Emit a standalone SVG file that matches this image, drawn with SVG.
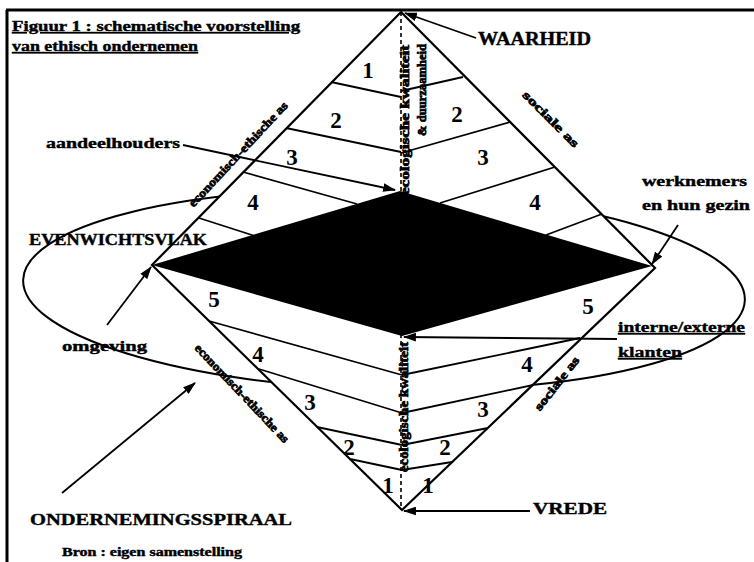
<svg xmlns="http://www.w3.org/2000/svg" width="754" height="562" viewBox="0 0 754 562">
<defs>
<style>
.frame{stroke:#000;stroke-width:3;fill:none}
.edge{stroke:#000;stroke-width:2.2;fill:none}
.band{stroke:#000;stroke-width:1.8;fill:none}
.axis{stroke:#000;stroke-width:1.6;stroke-dasharray:4 3;fill:none}
.arr{stroke:#000;stroke-width:1.8;fill:none;marker-end:url(#ah)}
.lbl{font-family:"Liberation Serif","Times New Roman",serif;font-weight:bold;fill:#000;stroke:#000;stroke-width:0.4}
.num{font-family:"Liberation Serif","Times New Roman",serif;font-weight:bold;font-size:23px;fill:#000;text-anchor:middle}
.rot{font-family:"Liberation Serif","Times New Roman",serif;font-weight:bold;font-size:12px;fill:#000;stroke:#000;stroke-width:0.7;text-anchor:middle}
</style>
<marker id="ah" viewBox="0 0 12 8" refX="11" refY="4" markerWidth="13" markerHeight="9" markerUnits="userSpaceOnUse" orient="auto">
<path d="M0,0 L12,4 L0,8 z" fill="#000"/>
</marker>
</defs>
<rect width="754" height="562" fill="#fff"/>
<g id="frame">
<line class="frame" x1="6" y1="10" x2="754" y2="10"/>
<line class="frame" x1="7" y1="10" x2="7" y2="562"/>
</g>
<g id="ondernemingsspiraal-ellipse">
<ellipse cx="384" cy="290" rx="361" ry="100" transform="rotate(1.6 384 290)" fill="none" stroke="#000" stroke-width="2"/>
</g>
<g id="diamond">
<polygon points="401,12 655,268 402,510 152,265" fill="#fff" stroke="#000" stroke-width="2.2"/>
</g>
<g id="evenwichtsvlak">
<polygon points="152,265 400,191 652,266 402,336" fill="#000"/>
</g>
<g id="connectors">
<line class="axis" x1="401" y1="12" x2="401" y2="510"/>
<line class="band" x1="331" y1="82" x2="401" y2="97"/>
<line class="band" x1="286" y1="128" x2="401" y2="152"/>
<line class="band" x1="243" y1="172" x2="357" y2="204"/>
<line class="band" x1="199" y1="218" x2="255" y2="236"/>
<line class="band" x1="401" y1="91" x2="463" y2="77"/>
<line class="band" x1="401" y1="153" x2="510" y2="122"/>
<line class="band" x1="440" y1="203" x2="555" y2="167"/>
<line class="band" x1="546" y1="235" x2="602" y2="214"/>
<line class="band" x1="209" y1="321" x2="402" y2="375"/>
<line class="band" x1="259" y1="369" x2="402" y2="413"/>
<line class="band" x1="317" y1="427" x2="402" y2="445"/>
<line class="band" x1="350" y1="459" x2="402" y2="470"/>
<line class="band" x1="402" y1="375" x2="580" y2="338"/>
<line class="band" x1="402" y1="413" x2="533" y2="385"/>
<line class="band" x1="402" y1="445" x2="488" y2="428"/>
<line class="band" x1="402" y1="470" x2="452" y2="462"/>
<line class="arr" x1="476" y1="38" x2="405" y2="13"/>
<line class="arr" x1="183" y1="145" x2="395" y2="190"/>
<line class="arr" x1="678" y1="225" x2="652" y2="264"/>
<line class="arr" x1="107" y1="325" x2="151" y2="267"/>
<line class="arr" x1="62" y1="493" x2="195" y2="383"/>
<line class="arr" x1="617" y1="339" x2="404" y2="337"/>
<line class="arr" x1="530" y1="511" x2="404" y2="511"/>
</g>
<g id="numbers">
<text class="num" x="368" y="78">1</text>
<text class="num" x="336" y="128">2</text>
<text class="num" x="292" y="165">3</text>
<text class="num" x="253" y="210">4</text>
<text class="num" x="457" y="122">2</text>
<text class="num" x="483" y="165">3</text>
<text class="num" x="535" y="210">4</text>
<text class="num" x="214" y="307">5</text>
<text class="num" x="588" y="314">5</text>
<text class="num" x="258" y="362">4</text>
<text class="num" x="310" y="410">3</text>
<text class="num" x="349" y="455">2</text>
<text class="num" x="388" y="493">1</text>
<text class="num" x="527" y="372">4</text>
<text class="num" x="483" y="417">3</text>
<text class="num" x="445" y="455">2</text>
<text class="num" x="428" y="493">1</text>
</g>
<g id="axis-labels">
<text class="rot" transform="translate(409,120) rotate(-90)" textLength="150" lengthAdjust="spacingAndGlyphs">ecologische kwaliteit</text>
<text class="rot" transform="translate(426,90) rotate(-90)" textLength="92" lengthAdjust="spacingAndGlyphs">&amp; duurzaamheid</text>
<text class="rot" transform="translate(408,407) rotate(-90)" textLength="130" lengthAdjust="spacingAndGlyphs">ecologische kwaliteit</text>
<text class="rot" transform="translate(548,122) rotate(45)" textLength="74" lengthAdjust="spacingAndGlyphs">sociale as</text>
<text class="rot" transform="translate(560,386) rotate(-52)" textLength="65" lengthAdjust="spacingAndGlyphs">sociale as</text>
<text class="rot" transform="translate(241,157) rotate(-47)" textLength="139" lengthAdjust="spacingAndGlyphs">economisch-ethische as</text>
<text class="rot" transform="translate(239,396) rotate(46.5)" textLength="131" lengthAdjust="spacingAndGlyphs">economisch-ethische as</text>
</g>
<g id="title">
<text class="lbl" x="12" y="31" font-size="14" text-decoration="underline" textLength="288" lengthAdjust="spacingAndGlyphs">Figuur 1 : schematische voorstelling</text>
<text class="lbl" x="12" y="51" font-size="14" text-decoration="underline" textLength="186" lengthAdjust="spacingAndGlyphs">van ethisch ondernemen</text>
</g>
<g id="waarheid"><text class="lbl" x="478" y="45" font-size="18" textLength="113" lengthAdjust="spacingAndGlyphs">WAARHEID</text></g>
<g id="aandeelhouders"><text class="lbl" x="46" y="148" font-size="15" textLength="134" lengthAdjust="spacingAndGlyphs">aandeelhouders</text></g>
<g id="werknemers">
<text class="lbl" x="642" y="186" font-size="15" textLength="105" lengthAdjust="spacingAndGlyphs">werknemers</text>
<text class="lbl" x="642" y="210" font-size="15" textLength="108" lengthAdjust="spacingAndGlyphs">en hun gezin</text>
</g>
<g id="evenwichtsvlak-label"><text class="lbl" x="29" y="245" font-size="16" textLength="178" lengthAdjust="spacingAndGlyphs">EVENWICHTSVLAK</text></g>
<g id="omgeving"><text class="lbl" x="62" y="351" font-size="15" textLength="85" lengthAdjust="spacingAndGlyphs">omgeving</text></g>
<g id="klanten">
<text class="lbl" x="618" y="332" font-size="15" text-decoration="underline" textLength="127" lengthAdjust="spacingAndGlyphs">interne/externe</text>
<text class="lbl" x="618" y="357" font-size="15" text-decoration="underline" textLength="64" lengthAdjust="spacingAndGlyphs">klanten</text>
</g>
<g id="vrede"><text class="lbl" x="533" y="514" font-size="17" textLength="74" lengthAdjust="spacingAndGlyphs">VREDE</text></g>
<g id="ondernemingsspiraal"><text class="lbl" x="30" y="525" font-size="17" textLength="262" lengthAdjust="spacingAndGlyphs">ONDERNEMINGSSPIRAAL</text></g>
<g id="bron"><text class="lbl" x="62" y="556" font-size="12" textLength="180" lengthAdjust="spacingAndGlyphs">Bron : eigen samenstelling</text></g>
</svg>
